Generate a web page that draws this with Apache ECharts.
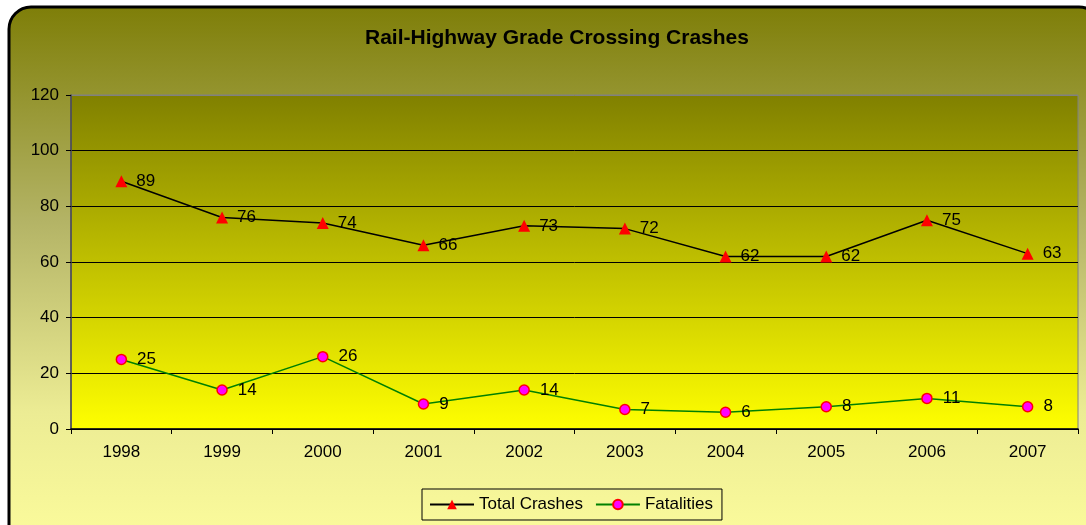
<!DOCTYPE html>
<html>
<head>
<meta charset="utf-8">
<script src="https://cdn.jsdelivr.net/npm/echarts@6/dist/echarts.min.js"></script>
<style>
html,body{margin:0;padding:0;background:#fff;}
#c{width:1086px;height:525px;}
</style>
</head>
<body>
<div id="c"></div>
<script>
const years = ['1998','1999','2000','2001','2002','2003','2004','2005','2006','2007'];
const totalCrashes = [89,76,74,66,73,72,62,62,75,63];
const fatalities = [25,14,26,9,14,7,6,8,11,8];
const chartTitle = 'Rail-Highway Grade Crossing Crashes';

const font = '"Liberation Sans", Arial, sans-serif';
const chart = echarts.init(document.getElementById('c'));
chart.setOption({
  animation: false,
  graphic: [{
    type: 'rect', z: -10, silent: true,
    shape: {x: 9, y: 7, width: 1092, height: 540, r: 22},
    style: {
      stroke: '#000', lineWidth: 3,
      fill: new echarts.graphic.LinearGradient(0,0,0,1,[
        {offset:0,color:'#7e7e08'},
        {offset:0.4,color:'#b4b466'},
        {offset:0.75,color:'#ecec94'},
        {offset:1,color:'#fcfc9c'}
      ])
    }
  }],
  title: {
    text: chartTitle, left: 360, top: 23,
    textStyle: {fontFamily: font, fontSize: 21, fontWeight: 'bold', color: '#000'}
  },
  legend: {
    top: 489, left: 422,
    data: ['Total Crashes','Fatalities'],
    backgroundColor: 'rgba(0,0,0,0)',
    borderColor: '#000', borderWidth: 1, borderRadius: 0,
    padding: [7, 9, 7, 7],
    itemWidth: 44, itemHeight: 12, itemGap: 12,
    textStyle: {fontFamily: font, fontSize: 17, color: '#000'}
  },
  grid: {
    left: 71, right: 8, top: 95, bottom: 96,
    show: true,
    borderColor: '#808080', borderWidth: 1,
    backgroundColor: new echarts.graphic.LinearGradient(0,0,0,1,[
      {offset:0,color:'#808000'},
      {offset:1,color:'#ffff00'}
    ])
  },
  xAxis: {
    type: 'category', data: years, boundaryGap: true,
    axisLine: {lineStyle: {color: '#000', width: 1.5}},
    axisTick: {show: true, length: 5, lineStyle: {color: '#000'}},
    axisLabel: {fontFamily: font, fontSize: 17, color: '#000', margin: 15},
    splitLine: {show: false}
  },
  yAxis: {
    type: 'value', min: 0, max: 120, interval: 20,
    axisLine: {show: true, lineStyle: {color: '#444455', width: 1.5}},
    axisTick: {show: true, length: 5, lineStyle: {color: '#000'}},
    axisLabel: {fontFamily: font, fontSize: 17, color: '#000', margin: 12},
    splitLine: {show: true, lineStyle: {color: ['#000','#000','#000','#000','#000','#000','#808080'], width: 1}}
  },
  series: [
    {
      name: 'Total Crashes', type: 'line', data: totalCrashes,
      symbol: 'triangle', symbolSize: 12,
      lineStyle: {color: '#000', width: 1.5},
      itemStyle: {color: '#ff0000', borderColor: '#ff0000', borderWidth: 0},
      label: {show: true, position: 'right', distance: 9, fontFamily: font, fontSize: 17, color: '#000'}
    },
    {
      name: 'Fatalities', type: 'line', data: fatalities,
      symbol: 'circle', symbolSize: 10,
      lineStyle: {color: '#008000', width: 1.5},
      itemStyle: {color: '#ff00ff', borderColor: '#ff0000', borderWidth: 1.5},
      label: {show: true, position: 'right', distance: 10, fontFamily: font, fontSize: 17, color: '#000'}
    }
  ]
});
</script>
</body>
</html>
